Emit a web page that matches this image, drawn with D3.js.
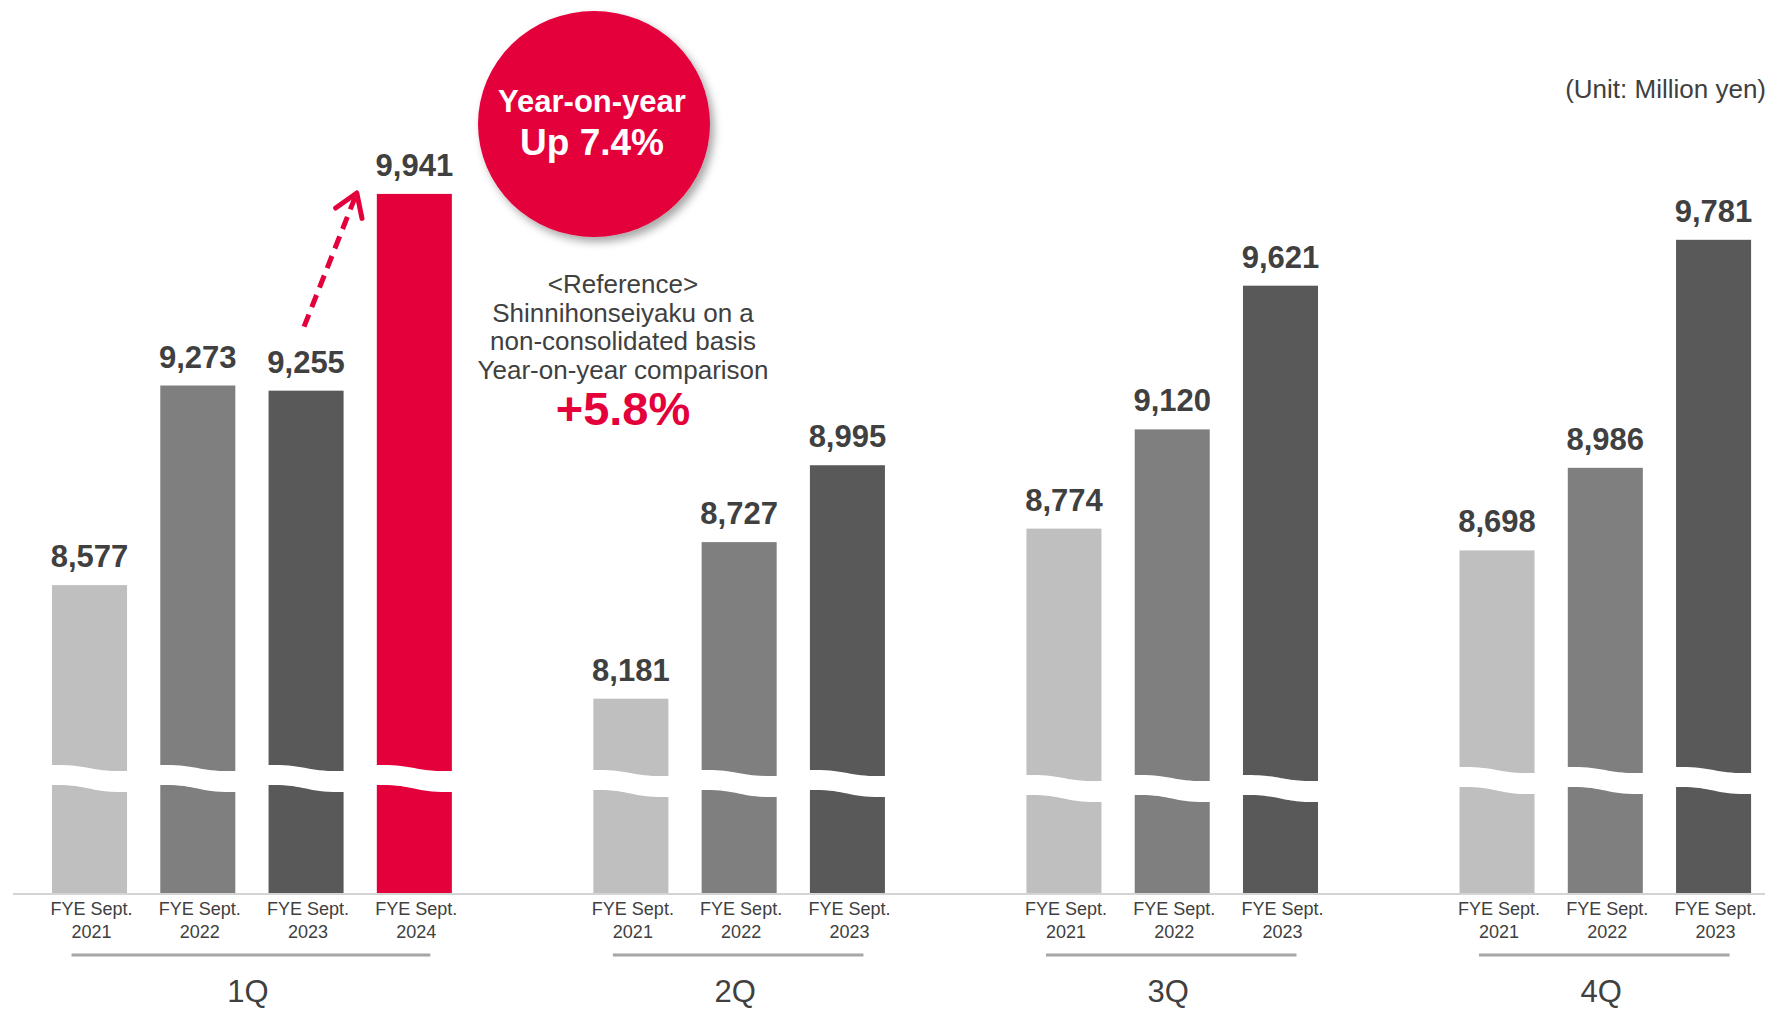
<!DOCTYPE html>
<html>
<head>
<meta charset="utf-8">
<script src="https://cdn.jsdelivr.net/npm/d3@7"></script>
<style>
  html, body { margin: 0; padding: 0; background: #ffffff; }
  svg { display: block; font-family: "Liberation Sans", Arial, Helvetica, sans-serif; }
</style>
</head>
<body>
<svg id="chart" width="1765" height="1009"></svg>
<script>
// Quarterly net sales (million yen), FYE September
const quarters = ["1Q", "2Q", "3Q", "4Q"];
const fiscalYears = ["2021", "2022", "2023", "2024"];
const sales2021 = [8577, 8181, 8774, 8698];
const sales2022 = [9273, 8727, 9120, 8986];
const sales2023 = [9255, 8995, 9621, 9781];
const sales2024 = [9941, null, null, null];
const yearPrefix = "FYE Sept.";

const seriesByYear = [sales2021, sales2022, sales2023, sales2024];
const yearColors = ["#bfbfbf", "#7f7f7f", "#595959", "#e4003a"];
const textColor = "#404040";
const red = "#e4003a";

const W = 1765, H = 1009;
const baseY = 894;
const svg = d3.select("#chart");

// Truncated value axis (the bars carry a break mark near the bottom)
const y = d3.scaleLinear().domain([7500, 10000]).range([baseY, 177]);

// 16 slots: each quarter owns four, shorter groups sit right-aligned
const x = d3.scaleBand()
  .domain(d3.range(16))
  .range([35.4, 1767.7])
  .paddingInner(0.307)
  .paddingOuter(0.1535);

const bars = [];
quarters.forEach((q, qi) => {
  const present = seriesByYear.map((s, yi) => ({ yi, v: s[qi] })).filter(d => d.v != null);
  present.forEach((d, k) => {
    bars.push({ quarter: qi, year: d.yi, value: d.v, slot: 4 * qi + k + (4 - present.length) });
  });
});

const defs = svg.append("defs");
const shadow = defs.append("filter").attr("id", "soft-shadow")
  .attr("x", "-20%").attr("y", "-20%").attr("width", "150%").attr("height", "150%");
shadow.append("feDropShadow")
  .attr("dx", 4).attr("dy", 5).attr("stdDeviation", 4)
  .attr("flood-color", "#000").attr("flood-opacity", 0.35);

// Bars
svg.append("g").selectAll("rect").data(bars).join("rect")
  .attr("x", d => x(d.slot))
  .attr("y", d => y(d.value))
  .attr("width", x.bandwidth())
  .attr("height", d => baseY - y(d.value))
  .attr("fill", d => yearColors[d.year]);

// Wavy break across each bar
const breakCenter = [778, 783, 788, 780];
svg.append("g").selectAll("path").data(bars).join("path")
  .attr("fill", "#ffffff")
  .attr("d", d => {
    const x0 = x(d.slot) - 1, x1 = x(d.slot) + x.bandwidth() + 1;
    const m = (x0 + x1) / 2, yc = breakCenter[d.quarter];
    return `M${x0},${yc - 13} C${m},${yc - 14} ${m},${yc - 6} ${x1},${yc - 7}` +
           ` L${x1},${yc + 14} C${m},${yc + 15} ${m},${yc + 6} ${x0},${yc + 7} Z`;
  });

// Baseline
svg.append("line")
  .attr("x1", 13).attr("x2", W).attr("y1", baseY).attr("y2", baseY)
  .attr("stroke", "#d4d4d4").attr("stroke-width", 2);

// Value labels
svg.append("g").selectAll("text").data(bars).join("text")
  .attr("x", d => x(d.slot) + x.bandwidth() / 2)
  .attr("y", d => y(d.value) - 18)
  .attr("text-anchor", "middle")
  .attr("font-size", 31).attr("font-weight", "bold")
  .attr("fill", textColor)
  .text(d => d3.format(",")(d.value));

// Fiscal-year labels under each bar
const yearLabels = svg.append("g").selectAll("text").data(bars).join("text")
  .attr("text-anchor", "middle")
  .attr("font-size", 18)
  .attr("fill", textColor);
yearLabels.append("tspan")
  .attr("x", d => x(d.slot) + x.bandwidth() / 2 + 2).attr("y", 915)
  .text(yearPrefix);
yearLabels.append("tspan")
  .attr("x", d => x(d.slot) + x.bandwidth() / 2 + 2).attr("y", 938)
  .text(d => fiscalYears[d.year]);

// Quarter brackets and names
const groups = quarters.map((q, qi) => {
  const bs = bars.filter(b => b.quarter === qi);
  const first = x(bs[0].slot), last = x(bs[bs.length - 1].slot);
  return { q, first, last };
});
const bw = x.bandwidth();
svg.append("g").selectAll("line").data(groups).join("line")
  .attr("x1", g => g.first + bw / 2 - 18)
  .attr("x2", g => g.last + bw / 2 + 16)
  .attr("y1", 955).attr("y2", 955)
  .attr("stroke", "#a6a6a6").attr("stroke-width", 3);
svg.append("g").selectAll("text").data(groups).join("text")
  .attr("x", g => (g.first + g.last + bw) / 2 - 4)
  .attr("y", 1002)
  .attr("text-anchor", "middle")
  .attr("font-size", 31)
  .attr("fill", textColor)
  .text(g => g.q);

// Unit note
svg.append("text")
  .attr("x", 1766).attr("y", 98)
  .attr("text-anchor", "end")
  .attr("font-size", 26)
  .attr("fill", textColor)
  .text("(Unit: Million yen)");

// Dashed growth arrow from FYE 2023 1Q to FYE 2024 1Q
const b23 = bars.find(b => b.quarter === 0 && b.year === 2);
const b24 = bars.find(b => b.quarter === 0 && b.year === 3);
const start = [x(b23.slot) + bw / 2 - 2, y(b23.value) - 64];
const tip = [x(b24.slot) - 20, y(b24.value) - 1];
const len = Math.hypot(tip[0] - start[0], tip[1] - start[1]);
const ux = (tip[0] - start[0]) / len, uy = (tip[1] - start[1]) / len;
svg.append("line")
  .attr("x1", start[0]).attr("y1", start[1])
  .attr("x2", tip[0] - ux * 4).attr("y2", tip[1] - uy * 4)
  .attr("stroke", red).attr("stroke-width", 5)
  .attr("stroke-dasharray", "13 8");
const arm = 26, ang = 33 * Math.PI / 180;
const rot = (a) => [-ux * Math.cos(a) + uy * Math.sin(a), -ux * Math.sin(a) - uy * Math.cos(a)];
const r1 = rot(ang), r2 = rot(-ang);
svg.append("path")
  .attr("d", `M${tip[0] + r1[0] * arm},${tip[1] + r1[1] * arm} L${tip[0]},${tip[1]} L${tip[0] + r2[0] * arm},${tip[1] + r2[1] * arm}`)
  .attr("fill", "none").attr("stroke", red).attr("stroke-width", 5)
  .attr("stroke-linecap", "round").attr("stroke-linejoin", "round");

// Year-on-year badge
svg.append("ellipse")
  .attr("cx", 594).attr("cy", 124).attr("rx", 116).attr("ry", 113)
  .attr("fill", red).attr("filter", "url(#soft-shadow)");
svg.append("text")
  .attr("x", 592).attr("y", 112).attr("text-anchor", "middle")
  .attr("font-size", 31).attr("font-weight", "bold").attr("fill", "#ffffff")
  .text("Year-on-year");
svg.append("text")
  .attr("x", 592).attr("y", 155).attr("text-anchor", "middle")
  .attr("font-size", 37).attr("font-weight", "bold").attr("fill", "#ffffff")
  .text("Up 7.4%");

// Non-consolidated reference note
const noteLines = ["<Reference>", "Shinnihonseiyaku on a", "non-consolidated basis", "Year-on-year comparison"];
svg.append("g").selectAll("text").data(noteLines).join("text")
  .attr("x", 623).attr("y", (d, i) => 293 + i * 28.7)
  .attr("text-anchor", "middle")
  .attr("font-size", 26)
  .attr("fill", textColor)
  .text(d => d);
svg.append("text")
  .attr("x", 623).attr("y", 425).attr("text-anchor", "middle")
  .attr("font-size", 47).attr("font-weight", "bold").attr("fill", red)
  .text("+5.8%");
</script>
</body>
</html>
